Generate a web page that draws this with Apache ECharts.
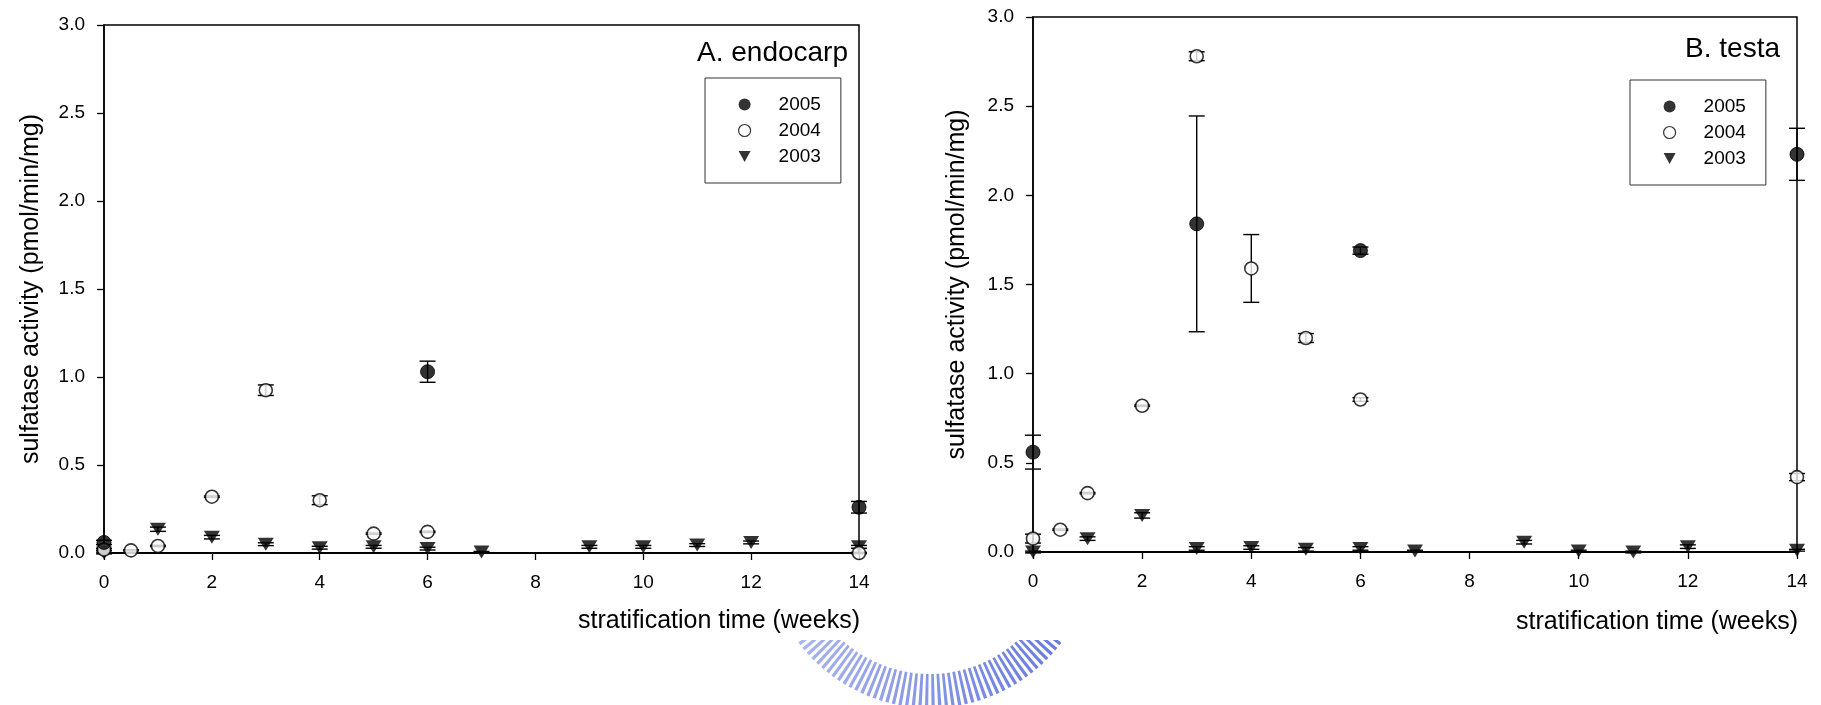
<!DOCTYPE html>
<html><head><meta charset="utf-8">
<script src="https://cdn.jsdelivr.net/npm/echarts@6/dist/echarts.min.js"></script>
<style>html,body{margin:0;padding:0;background:#fff}#c{width:1821px;height:705px}</style>
</head><body><div id="c"></div>
<script>
// ---- data ----
const yTicks = [0.0, 0.5, 1.0, 1.5, 2.0, 2.5, 3.0];
const xTicks = [0, 2, 4, 6, 8, 10, 12, 14];
const seriesNames = ['2005', '2004', '2003'];

// A. endocarp
const A05_x = [0, 6, 14];
const A05_y = [0.06, 1.03, 0.26];
const A05_e = [0.012, 0.06, 0.033];
const A04_x = [0, 0.5, 1, 2, 3, 4, 5, 6, 14];
const A04_y = [0.02, 0.015, 0.04, 0.32, 0.925, 0.30, 0.11, 0.12, 0.0];
const A04_e = [0.005, 0.003, 0.004, 0.004, 0.03, 0.025, 0.004, 0.004, 0.004];
const A03_x = [0, 1, 2, 3, 4, 5, 6, 7, 9, 10, 11, 12, 14];
const A03_y = [0.0, 0.135, 0.09, 0.05, 0.03, 0.035, 0.025, 0.005, 0.035, 0.035, 0.045, 0.06, 0.035];
const A03_e = [0.005, 0.012, 0.01, 0.008, 0.008, 0.008, 0.008, 0.004, 0.008, 0.008, 0.008, 0.008, 0.008];

// B. testa
const B05_x = [0, 3, 6, 14];
const B05_y = [0.56, 1.84, 1.69, 2.23];
const B05_e = [0.095, 0.605, 0.02, 0.146];
const B04_x = [0, 0.5, 1, 2, 3, 4, 5, 6, 14];
const B04_y = [0.075, 0.125, 0.33, 0.82, 2.78, 1.59, 1.20, 0.855, 0.42];
const B04_e = [0.025, 0.004, 0.004, 0.004, 0.025, 0.19, 0.025, 0.01, 0.02];
const B03_x = [0, 1, 2, 3, 4, 5, 6, 7, 9, 10, 11, 12, 14];
const B03_y = [0.0, 0.075, 0.205, 0.02, 0.025, 0.015, 0.02, 0.005, 0.055, 0.005, 0.0, 0.03, 0.01];
const B03_e = [0.005, 0.01, 0.015, 0.01, 0.01, 0.01, 0.01, 0.005, 0.01, 0.005, 0.005, 0.01, 0.005];

// ---- build ----
const FONT = '"Liberation Sans", Arial, sans-serif';
const TRI = 'path://M0,0L10,0L5,9Z';

function pts(xs, ys, es) { return xs.map((x, i) => es ? [x, ys[i], es[i]] : [x, ys[i]]); }

function errRender(params, api) {
  const x = api.value(0), y = api.value(1), e = api.value(2);
  const t = api.coord([x, y + e]), b = api.coord([x, y - e]);
  const hw = 8, st = { stroke: '#000', lineWidth: 1.4 };
  return { type: 'group', children: [
    { type: 'line', shape: { x1: t[0], y1: t[1], x2: b[0], y2: b[1] }, style: st },
    { type: 'line', shape: { x1: t[0] - hw, y1: t[1], x2: t[0] + hw, y2: t[1] }, style: st },
    { type: 'line', shape: { x1: b[0] - hw, y1: b[1], x2: b[0] + hw, y2: b[1] }, style: st }
  ]};
}

const grids = [
  { left: 104, top: 25, width: 755, height: 528 },
  { left: 1033, top: 17, width: 764, height: 535 }
];

function xAxisFor(gi, padTop) {
  return {
    type: 'value', gridIndex: gi, min: xTicks[0], max: xTicks[xTicks.length - 1], interval: 2,
    axisLine: { onZero: false, lineStyle: { color: '#000', width: 2 } },
    axisTick: { inside: false, length: 7, lineStyle: { color: '#000', width: 1.3 } },
    axisLabel: { margin: 20, color: '#000', fontSize: 19, fontFamily: FONT },
    splitLine: { show: false },
    name: 'stratification time (weeks)', nameLocation: 'end', nameGap: 1,
    nameTextStyle: { align: 'right', verticalAlign: 'top', padding: [padTop, 0, 0, 0], color: '#000', fontSize: 25, fontFamily: FONT }
  };
}
function yAxisFor(gi, gap) {
  return {
    type: 'value', gridIndex: gi, min: 0, max: 3, interval: 0.5,
    axisLine: { lineStyle: { color: '#000', width: 1.5 } },
    axisTick: { inside: false, length: 7, lineStyle: { color: '#000', width: 1.3 } },
    axisLabel: { margin: 19, color: '#000', fontSize: 19, fontFamily: FONT, formatter: v => v.toFixed(1) },
    splitLine: { show: false },
    name: 'sulfatase activity (pmol/min/mg)', nameLocation: 'middle', nameGap: gap,
    nameTextStyle: { color: '#000', fontSize: 25, fontFamily: FONT }
  };
}

const styles = {
  '2005': { symbol: 'circle', symbolSize: 14, itemStyle: { color: '#000', borderColor: '#000', borderWidth: 1 } },
  '2004': { symbol: 'circle', symbolSize: 13, itemStyle: { color: '#fff', borderColor: '#000', borderWidth: 1.6 } },
  '2003': { symbol: TRI, symbolSize: [16, 13], itemStyle: { color: '#000' } }
};

const series = [];
function addSet(gi, name, xs, ys, es) {
  series.push({
    type: 'custom', name: 'err' + name + gi, xAxisIndex: gi, yAxisIndex: gi, clip: false, z: 2,
    data: pts(xs, ys, es), renderItem: errRender, encode: { x: 0, y: 1 }, silent: true
  });
  series.push(Object.assign({
    type: 'scatter', name: name, xAxisIndex: gi, yAxisIndex: gi, clip: false, z: 3,
    data: pts(xs, ys)
  }, styles[name]));
}
addSet(0, '2003', A03_x, A03_y, A03_e);
addSet(0, '2004', A04_x, A04_y, A04_e);
addSet(0, '2005', A05_x, A05_y, A05_e);
addSet(1, '2003', B03_x, B03_y, B03_e);
addSet(1, '2004', B04_x, B04_y, B04_e);
addSet(1, '2005', B05_x, B05_y, B05_e);

function legendFor(left, top) {
  return {
    orient: 'vertical', left: left, top: top,
    padding: [17, 20, 17, 33], itemGap: 7, itemWidth: 12, itemHeight: 12,
    borderColor: '#333', borderWidth: 1, backgroundColor: '#fff',
    selectedMode: false,
    textStyle: { color: '#000', fontSize: 19, fontFamily: FONT, padding: [0, 0, 0, 23] },
    data: [
      { name: '2005', icon: 'circle', itemStyle: { color: '#000', borderWidth: 0 } },
      { name: '2004', icon: 'circle', itemStyle: { color: '#fff', borderColor: '#000', borderWidth: 1.2 } },
      { name: '2003', icon: TRI, itemStyle: { color: '#000', borderWidth: 0 } }
    ]
  };
}

// decorative watermark (partial striped ring below the figure)
const wmGradient = new echarts.graphic.LinearGradient(0, 0, 1, 0, [
  { offset: 0, color: 'rgba(170,182,238,0.9)' },
  { offset: 0.5, color: 'rgba(120,138,225,0.9)' },
  { offset: 1, color: 'rgba(80,100,215,0.9)' }
]);

const option = {
  backgroundColor: '#fff',
  animation: false,
  title: [
    { text: 'A. endocarp', right: 973, top: 39, padding: 0, textStyle: { fontSize: 28, fontWeight: 'normal', color: '#000', fontFamily: FONT } },
    { text: 'B. testa', right: 41, top: 35, padding: 0, textStyle: { fontSize: 28, fontWeight: 'normal', color: '#000', fontFamily: FONT } }
  ],
  legend: [legendFor(705, 78), legendFor(1630, 80)],
  grid: grids.map(g => Object.assign({ show: true, borderColor: '#000', borderWidth: 1.5, containLabel: false }, g)),
  xAxis: [xAxisFor(0, 56), xAxisFor(1, 58)],
  yAxis: [yAxisFor(0, 60), yAxisFor(1, 63)],
  graphic: [
    {
      type: 'arc', silent: true, z: -10,
      shape: { cx: 930, cy: 543, r: 148, startAngle: 0, endAngle: Math.PI * 2 },
      style: { stroke: wmGradient, lineWidth: 34, lineDash: [3, 3], fill: null }
    },
    {
      type: 'rect', silent: true, z: -5,
      shape: { x: 740, y: 0, width: 380, height: 640 },
      style: { fill: '#fff' }
    }
  ],
  series: series
};

const chart = echarts.init(document.getElementById('c'), null, { renderer: 'canvas' });
chart.setOption(option);
</script></body></html>
